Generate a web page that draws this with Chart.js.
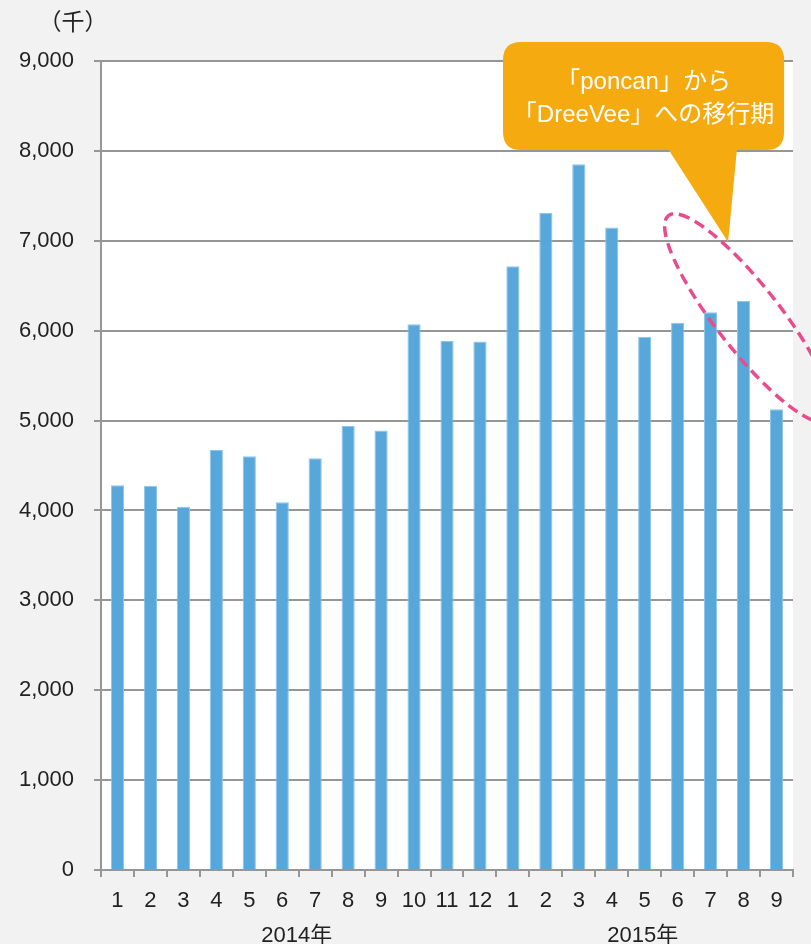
<!DOCTYPE html>
<html>
<head>
<meta charset="utf-8">
<script src="https://cdn.jsdelivr.net/npm/chart.js@4/dist/chart.umd.min.js"></script>
<style>
  html, body { margin: 0; padding: 0; background: #f2f2f2; }
  #wrap { width: 811px; height: 944px; position: relative; }
</style>
</head>
<body>
<div id="wrap"><canvas id="pvChart"></canvas></div>
<script>
// 月ごとの値（千）
const months = ["1","2","3","4","5","6","7","8","9","10","11","12","1","2","3","4","5","6","7","8","9"];
const values = [4280, 4275, 4040, 4672, 4602, 4090, 4580, 4940, 4890, 6072, 5884, 5880, 6718, 7308, 7850, 7148, 5932, 6088, 6205, 6330, 5125];
const years = ["2014年", "2015年"];
const yearStart = [0, 12];
const yearEnd = [11, 20];
const yTicks = [0, 1000, 2000, 3000, 4000, 5000, 6000, 7000, 8000, 9000];
const calloutLines = ["「poncan」から", "「DreeVee」への移行期"];

const fontFamily = "'Liberation Sans', Arial, 'Noto Sans CJK JP', sans-serif";
const gridGray = "#969696";

const backgroundPlugin = {
    id: "bg",
    beforeDraw(chart) {
        const ctx = chart.ctx;
        const a = chart.chartArea;
        ctx.save();
        ctx.fillStyle = "#f2f2f2";
        ctx.fillRect(0, 0, chart.width, chart.height);
        ctx.fillStyle = "#ffffff";
        ctx.fillRect(a.left, a.top, a.right - a.left, a.bottom - a.top);
        ctx.restore();
    }
};

function roundRect(ctx, x, y, w, h, r) {
    ctx.beginPath();
    ctx.moveTo(x + r, y);
    ctx.lineTo(x + w - r, y);
    ctx.quadraticCurveTo(x + w, y, x + w, y + r);
    ctx.lineTo(x + w, y + h - r);
    ctx.quadraticCurveTo(x + w, y + h, x + w - r, y + h);
    ctx.lineTo(x + r, y + h);
    ctx.quadraticCurveTo(x, y + h, x, y + h - r);
    ctx.lineTo(x, y + r);
    ctx.quadraticCurveTo(x, y, x + r, y);
    ctx.closePath();
}

const extrasPlugin = {
    id: "extras",
    afterDraw(chart) {
        const ctx = chart.ctx;
        const xs = chart.scales.x;
        const ys = chart.scales.y;
        ctx.save();

        // 単位
        ctx.fillStyle = "#222222";
        ctx.font = "23px " + fontFamily;
        ctx.textAlign = "center";
        ctx.textBaseline = "middle";
        ctx.fillText("（千）", 73, 24);

        // 年ラベル
        ctx.font = "22px " + fontFamily;
        for (let i = 0; i < years.length; i++) {
            const cx = (xs.getPixelForValue(yearStart[i]) + xs.getPixelForValue(yearEnd[i])) / 2;
            ctx.fillText(years[i], cx - 2, 936);
        }

        // 点線の楕円
        const ex = xs.getPixelForValue(19.15);
        const ey = ys.getPixelForValue(6140);
        ctx.beginPath();
        ctx.ellipse(ex, ey, 130, 32, 52 * Math.PI / 180, 0, Math.PI * 2);
        ctx.setLineDash([11, 6]);
        ctx.lineWidth = 3.5;
        ctx.strokeStyle = "#e84c8c";
        ctx.stroke();
        ctx.setLineDash([]);

        // 吹き出し
        const bx1 = xs.getPixelForValue(11.7);
        const bx2 = xs.getPixelForValue(20.23);
        const by1 = ys.getPixelForValue(9211);
        const by2 = ys.getPixelForValue(8010);
        ctx.fillStyle = "#f5aa10";
        roundRect(ctx, bx1, by1, bx2 - bx1, by2 - by1, 18);
        ctx.fill();
        ctx.beginPath();
        ctx.moveTo(xs.getPixelForValue(16.71), by2 - 1);
        ctx.lineTo(xs.getPixelForValue(18.8), by2 - 1);
        ctx.lineTo(xs.getPixelForValue(18.53), ys.getPixelForValue(6986));
        ctx.closePath();
        ctx.fill();

        ctx.fillStyle = "#ffffff";
        ctx.font = "24px " + fontFamily;
        const tx = (bx1 + bx2) / 2;
        ctx.fillText(calloutLines[0], tx, by1 + 40);
        ctx.fillText(calloutLines[1], tx, by1 + 73);

        ctx.restore();
    }
};

const ctx = document.getElementById("pvChart");
const chart = new Chart(ctx, {
    type: "bar",
    data: {
        labels: months,
        datasets: [
            {
                data: values,
                backgroundColor: "#57a7da",
                borderColor: "#8dc5ea",
                borderWidth: 1,
                barPercentage: 0.4,
                categoryPercentage: 1.0
            }
        ]
    },
    options: {
        responsive: true,
        maintainAspectRatio: false,
        animation: false,
        layout: { padding: { top: 61, right: 18, left: 0, bottom: 0 } },
        plugins: {
            legend: { display: false },
            tooltip: { enabled: false }
        },
        scales: {
            x: {
                offset: true,
                grid: {
                    offset: true,
                    drawOnChartArea: false,
                    drawTicks: true,
                    tickLength: 7,
                    color: gridGray,
                    lineWidth: 2
                },
                border: { display: true, color: gridGray, width: 2 },
                ticks: {
                    color: "#222222",
                    font: { family: fontFamily, size: 22 },
                    padding: 11,
                    maxRotation: 0,
                    autoSkip: false
                },
                afterFit(scale) { scale.height = 74; }
            },
            y: {
                min: 0,
                max: 9000,
                afterBuildTicks(scale) {
                    scale.ticks = yTicks.map(v => ({ value: v }));
                },
                grid: {
                    color: gridGray,
                    lineWidth: 2,
                    drawTicks: true,
                    tickLength: 7
                },
                border: { display: true, color: gridGray, width: 2 },
                ticks: {
                    color: "#222222",
                    font: { family: fontFamily, size: 22 },
                    padding: 20,
                    callback: v => v.toLocaleString("en-US")
                },
                afterFit(scale) { scale.width = 101; }
            }
        }
    },
    plugins: [backgroundPlugin, extrasPlugin]
});
</script>
</body>
</html>
